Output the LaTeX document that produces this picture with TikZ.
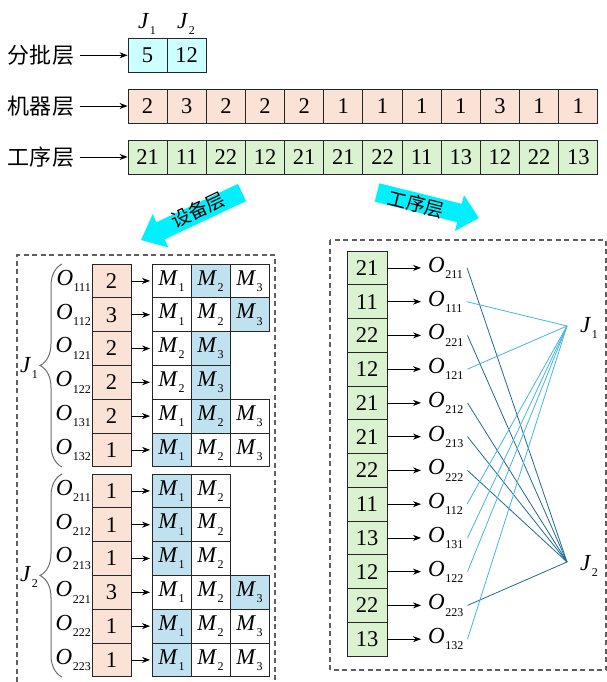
\documentclass[tikz,border=0pt]{standalone}
\usepackage{fontspec}
\setmainfont{Liberation Serif}
\newfontfamily\cjk{Noto Sans CJK SC}
\usetikzlibrary{decorations.pathreplacing,arrows.meta}

\definecolor{batchfill}{RGB}{204,255,255}
\definecolor{machfill}{RGB}{251,226,214}
\definecolor{opfill}{RGB}{218,242,208}
\definecolor{selfill}{RGB}{192,226,240}
\definecolor{bigarrow}{RGB}{0,240,255}
\definecolor{jonecol}{RGB}{70,180,228}
\definecolor{jtwocol}{RGB}{30,105,145}
\definecolor{dashgray}{RGB}{95,95,95}
\definecolor{bracegray}{RGB}{110,110,110}

% italic symbol with a small lowered index
\newcommand\idx[2]{\textit{#1}\kern0.5pt\raisebox{-0.6ex}{\fontsize{12}{12}\selectfont #2}}

\tikzset{
  cell/.style={draw=black!85, line width=0.9pt, minimum width=39pt, minimum height=33.8pt,
               inner sep=0pt, font=\fontsize{22.5}{22.5}\selectfont},
  layerlabel/.style={inner sep=0pt, font=\cjk\fontsize{22}{22}\selectfont},
  oplabel/.style={inner sep=0.5pt, font=\fontsize{23}{23}\selectfont},
  arr/.style={-{Stealth[length=8pt,width=6pt]}, line width=0.8pt, black},
  framebox/.style={dashgray, line width=1.1pt, dash pattern=on 5pt off 3.5pt},
  jline1/.style={jonecol, line width=0.8pt},
  jline2/.style={jtwocol, line width=0.8pt},
  bracedraw/.style={bracegray, line width=1pt, decorate, decoration={brace, amplitude=22pt}},
  arrowtext/.style={inner sep=0pt, font=\cjk\fontsize{19}{19}\selectfont},
}

\begin{document}
\begin{tikzpicture}[x=1pt,y=-1pt]
\useasboundingbox (0,0) rectangle (607,682);

% ---------- encoding rows ----------
\node[oplabel] (tj1) at (147,24) {\idx{J}{1}};
\node[oplabel] (tj2) at (186,24) {\idx{J}{2}};

\node[cell, fill=batchfill, minimum width=39.15pt, minimum height=34pt] (b0) at (147.6,55.3) {5};
\node[cell, fill=batchfill, minimum width=39.15pt, minimum height=34pt] (b1) at (186.7,55.3) {12};

\foreach \v [count=\k from 0] in {2,3,2,2,2,1,1,1,1,3,1,1}
  \node[cell, fill=machfill, minimum width=39.15pt, minimum height=34pt] (mc\k) at ({147.6+\k*39.15},106) {\v};
\foreach \v [count=\k from 0] in {21,11,22,12,21,21,22,11,13,12,22,13}
  \node[cell, fill=opfill, minimum width=39.15pt, minimum height=34pt] (oc\k) at ({147.6+\k*39.15},157) {\v};

\node[layerlabel] (l1) at (41,55) {分批层};
\node[layerlabel] (l2) at (41,106) {机器层};
\node[layerlabel] (l3) at (41,157) {工序层};
\draw[arr, shorten <=6pt] (l1.east |- b0.west) -- (b0.west);
\draw[arr, shorten <=6pt] (l2.east |- mc0.west) -- (mc0.west);
\draw[arr, shorten <=6pt] (l3.east |- oc0.west) -- (oc0.west);

% ---------- direction arrows ----------
\begin{scope}[shift={(242,192.5)}, rotate=205.2]
  \fill[bigarrow] (0,-9.5) -- (90,-9.5) -- (90,-18.5) -- (111.6,0) -- (90,18.5) -- (90,9.5) -- (0,9.5) -- cycle;
\end{scope}
\node[arrowtext, rotate=25.2] (tdev) at (198,210) {设备层};

\begin{scope}[shift={(377,192.5)}, rotate=-14]
  \fill[bigarrow] (0,-9.5) -- (85,-9.5) -- (85,-18.5) -- (105,0) -- (85,18.5) -- (85,9.5) -- (0,9.5) -- cycle;
\end{scope}
\node[arrowtext, rotate=-14] (tops) at (416,204) {工序层};

% ---------- machine layer decoding ----------
\draw[framebox] (17,682) -- (17,255) -- (275,255) -- (275,682);

% row / y centre / index / machine count / first machine / number of machines / chosen column
\foreach \r/\yc/\s/\val/\f/\n/\h in {
   a/280.9/111/2/1/3/2, b/314.7/112/3/1/3/3, c/348.5/121/2/2/2/2,
   d/382.3/122/2/2/2/2, e/416.1/131/2/1/3/2, f/449.9/132/1/1/3/1,
   g/490.9/211/1/1/2/1, h/524.7/212/1/1/2/1, i/558.5/213/1/1/2/1,
   j/592.3/221/3/1/3/3, k/626.1/222/1/1/3/1, l/659.9/223/1/1/3/1} {
  \node[oplabel, anchor=east] (ol\r) at (91.5,\yc) {\idx{O}{\s}};
  \node[cell, fill=machfill] (p\r) at (111.5,\yc) {\val};
  \foreach \c in {1,...,\n} {
    \pgfmathtruncatemacro\m{\f+\c-1}
    \ifnum\c=\h\relax
      \node[cell, fill=selfill] (m\r\c) at ({171.5+(\c-1)*39},\yc) {\idx{M}{\m}};
    \else
      \node[cell, fill=white] (m\r\c) at ({171.5+(\c-1)*39},\yc) {\idx{M}{\m}};
    \fi
  }
  \draw[arr, shorten >=1.5pt] (p\r.east) -- (m\r1.west);
}

\draw[bracedraw] (62,467) -- (62,264);
\draw[bracedraw] (62,677) -- (62,474);
\node[oplabel] (jl1) at (29,368) {\idx{J}{1}};
\node[oplabel] (jl2) at (29,577) {\idx{J}{2}};

% ---------- operation layer decoding ----------
\draw[framebox] (330,240) rectangle (606,670);

\coordinate (jpt1) at (567,326);
\coordinate (jpt2) at (567,562);
\node[oplabel] (jr1) at (589,328) {\idx{J}{1}};
\node[oplabel] (jr2) at (589,566) {\idx{J}{2}};

\foreach \v/\s/\j [count=\k from 0] in {21/211/2, 11/111/1, 22/221/2, 12/121/1,
    21/212/2, 21/213/2, 22/222/2, 11/112/1, 13/131/1, 12/122/1, 22/223/2, 13/132/1} {
  \node[cell, fill=opfill, minimum width=40pt, minimum height=33.75pt] (g\k) at (367,{267.9+\k*33.75}) {\v};
  \node[oplabel, anchor=west, inner xsep=4pt] (o\k) at (424,{267.9+\k*33.75}) {\idx{O}{\s}};
  \draw[arr, shorten >=3pt] (g\k.east) -- (o\k.west);
  \draw[jline\j] (o\k.east) -- (jpt\j);
}
\end{tikzpicture}
\end{document}
